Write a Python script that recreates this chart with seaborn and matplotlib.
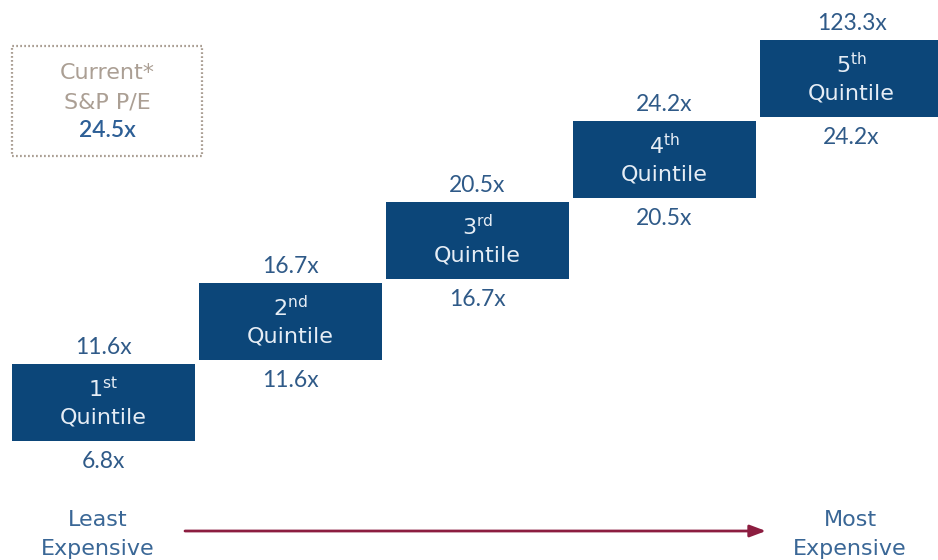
import matplotlib
matplotlib.use("Agg")
import matplotlib.pyplot as plt
import seaborn as sns
import numpy as np
from matplotlib.patches import Rectangle

# ---- data ----
quintiles = ["1", "2", "3", "4", "5"]
suffixes = ["st", "nd", "rd", "th", "th"]
lower_pe = [6.8, 11.6, 16.7, 20.5, 24.2]
upper_pe = [11.6, 16.7, 20.5, 24.2, 123.3]
levels = [0, 1, 2, 3, 4]
current_pe = 24.5
left_label = ["Least", "Expensive"]
right_label = ["Most", "Expensive"]

sns.set_theme(style="white")
plt.rcParams["font.family"] = ["DejaVu Sans"]
plt.rcParams["mathtext.fontset"] = "custom"
plt.rcParams["mathtext.rm"] = "DejaVu Sans"

BOX = "#0c4679"
NUM = "#2f5a88"
LBL = "#3a6796"
TAUPE = "#ab9f94"
MAROON = "#8c1d40"
NUMFONT = ["Lato", "DejaVu Sans"]

fig = plt.figure(figsize=(9.38, 5.6), dpi=100)
ax = fig.add_axes([0, 0, 1, 1])

heights = [0.95] * len(quintiles)
sns.barplot(x=list(range(len(quintiles))), y=heights, bottom=levels,
            width=0.98, color=BOX, saturation=1, linewidth=0, ax=ax)

# coordinate system: centre of box i at pixel 103.5 + 187 i ; bottom of level j at pixel 441 - 81 j
ax.set_xlim(-103.5 / 187, (938 - 103.5) / 187)
ax.set_ylim((441 - 560) / 81, 441 / 81)
ax.axis("off")

fs = 16
nfs = 16.5
for i, (q, s, lo, hi, lv) in enumerate(zip(quintiles, suffixes, lower_pe, upper_pe, levels)):
    top = lv + 0.95
    ax.text(i, top + 0.2, f"{hi:.1f}x", ha="center", va="center", fontsize=nfs, color=NUM,
            family=NUMFONT)
    ax.text(i, lv - 0.25, f"{lo:.1f}x", ha="center", va="center", fontsize=nfs, color=NUM,
            family=NUMFONT)
    ax.text(i, lv + 0.65, q + r"$^{\mathrm{" + s + "}}$", ha="center", va="center",
            fontsize=fs, color="#e6edf5")
    ax.text(i, lv + 0.29, "Quintile", ha="center", va="center", fontsize=fs, color="#e6edf5")

def px(x, y):
    return ((x - 103.5) / 187, (441 - y) / 81)

# current P/E dotted box
x0, y0 = px(12, 156)
x1, y1 = px(202, 46)
ax.add_patch(Rectangle((x0, y0), x1 - x0, y1 - y0, fill=False, edgecolor=TAUPE,
                       linestyle=(0, (0.8, 1.0)), linewidth=1.6))
cx = (x0 + x1) / 2
ax.text(cx, px(0, 73)[1], "Current*", ha="center", va="center", fontsize=fs, color=TAUPE)
ax.text(cx, px(0, 102)[1], "S&P P/E", ha="center", va="center", fontsize=fs, color=TAUPE)
ax.text(cx, px(0, 130)[1], f"{current_pe:.1f}x", ha="center", va="center", fontsize=nfs,
        color="#2d5f96", family=NUMFONT, fontweight="semibold")

# arrow
a0 = px(185, 531)
a1 = px(766, 531)
ax.annotate("", xy=a1, xytext=a0,
            arrowprops=dict(arrowstyle="-|>,head_length=0.8,head_width=0.3", color=MAROON,
                            lw=2, shrinkA=0, shrinkB=0))

for lbls, xc in ((left_label, 98), (right_label, 850)):
    ax.text(px(xc, 0)[0], px(0, 520)[1], lbls[0], ha="center", va="center", fontsize=fs, color=LBL)
    ax.text(px(xc, 0)[0], px(0, 549)[1], lbls[1], ha="center", va="center", fontsize=fs, color=LBL)

fig.savefig("out.png", dpi=100)
